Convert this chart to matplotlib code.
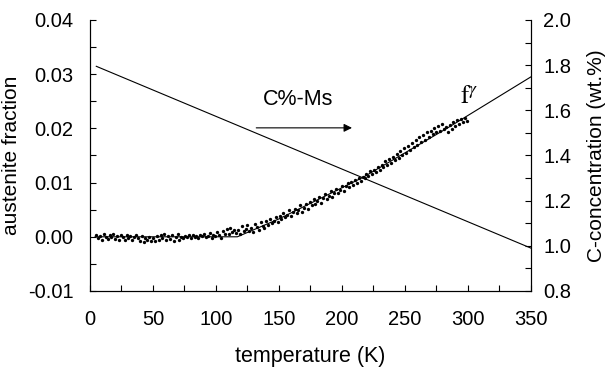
import numpy as np
import matplotlib
matplotlib.use('Agg')
import matplotlib.pyplot as plt
from matplotlib.ticker import MultipleLocator

plt.rcParams['font.family'] = ['Liberation Sans', 'DejaVu Sans']
plt.rcParams['mathtext.fontset'] = 'stix'

# measured austenite fraction (units of 1e-3), one point every 1.5 K from 5 K
frac_milli = [
    0.3, -0.3, 0.1, -0.5, 0.6, 0.0, -0.4, 0.4, -0.1, 0.5,
    -0.4, 0.1, -0.6, 0.3, 0.0, -0.5, 0.4, -0.2, 0.1, -0.6,
    0.0, 0.3, -0.3, -0.7, 0.1, -0.9, -0.2, -0.6, 0.0, -0.8,
    -0.3, -0.7, 0.2, -0.5, 0.4, -0.2, 0.5, -0.6, 0.1, -0.4,
    0.4, -0.7, -0.1, 0.6, -0.5, 0.0, -0.3, 0.2, -0.1, 0.3,
    -0.3, 0.4, 0.0, 0.2, -0.2, 0.4, 0.1, 0.5, -0.1, 0.2,
    0.7, -0.2, 0.3, 0.1, 0.9, 0.4, -0.3, 1.1, 0.5, 1.4,
    0.6, 1.6, 0.9, 1.3, 0.7,
    1.2, 0.6, 1.9, 1.0, 1.4, 2.2, 1.1, 1.7, 0.9, 2.4,
    1.8, 1.3, 2.7, 2.0, 1.6, 2.9, 2.2, 3.3, 2.5, 2.9,
    3.6, 2.8, 3.9, 3.2, 4.3, 3.6, 4.0, 4.9, 3.8, 4.6,
    5.2, 4.3, 5.0, 5.8, 4.6, 5.4, 6.1, 5.2, 6.4, 5.8,
    6.9, 6.0, 6.6, 7.4, 6.3, 7.2, 7.9, 6.9, 7.6, 8.4,
    7.3, 8.1, 8.8, 8.0, 8.6, 9.4, 8.5, 9.3, 9.9, 9.2,
    10.1, 9.6, 10.5, 10.0, 10.8, 10.3, 11.0, 10.8, 11.6, 11.2,
    12.1, 11.6, 12.4, 12.0, 12.9, 12.3, 13.3, 12.8, 13.9, 13.2,
    14.3, 13.7, 14.8, 14.1, 15.2, 14.6, 15.8, 15.1, 16.3, 15.5,
    16.8, 16.0, 17.3, 16.5, 17.8, 17.0, 18.4, 17.4, 18.7, 17.9,
    19.3, 18.4, 19.6, 18.9, 20.1, 19.3, 20.4, 19.5, 20.8, 19.9,
    20.2, 19.4, 20.6, 19.8, 21.1, 20.5, 21.5, 20.9, 21.7, 21.1,
    22.0, 21.4,
]
frac = np.array(frac_milli) / 1000.0
temps = 5 + 1.5 * np.arange(len(frac))

# calculated f-gamma curve
fit_T = [4, 117, 150, 217, 284, 350]
fit_f = [0.0, 0.0, 0.0033, 0.011, 0.0201, 0.0295]

# C%-Ms line (right axis)
c_T = [5, 350]
c_wt = [1.795, 0.99]

fig = plt.figure(figsize=(6.06, 3.69), dpi=100)
ax = fig.add_axes([0.1485, 0.2114, 0.7275, 0.7344])
ax2 = ax.twinx()

ax.plot(temps, frac, 'o', color='black', ms=2.4, mew=0)
ax.plot(fit_T, fit_f, color='black', lw=0.8)
ax2.plot(c_T, c_wt, color='black', lw=0.8)

ax.set_xlim(0, 350)
ax.set_ylim(-0.01, 0.04)
ax2.set_ylim(0.8, 2.0)

ax.xaxis.set_major_locator(MultipleLocator(50))
ax.xaxis.set_minor_locator(MultipleLocator(25))
ax.yaxis.set_major_locator(MultipleLocator(0.01))
ax.yaxis.set_minor_locator(MultipleLocator(0.005))
ax2.yaxis.set_major_locator(MultipleLocator(0.2))
ax2.yaxis.set_minor_locator(MultipleLocator(0.1))
ax.yaxis.set_major_formatter(plt.FuncFormatter(lambda v, p: '%.2f' % v))
ax2.yaxis.set_major_formatter(plt.FuncFormatter(lambda v, p: '%.1f' % v))

for a in (ax, ax2):
    a.spines['top'].set_visible(False)
    for s in a.spines.values():
        s.set_linewidth(0.8)
    a.tick_params(which='both', direction='in', length=4, width=0.8, labelsize=14.5)

ax.tick_params(axis='x', pad=14)
ax.tick_params(axis='y', pad=12)
ax2.tick_params(axis='y', pad=9)

ax.set_xlabel('temperature (K)', fontsize=15.5, labelpad=12)
ax.set_ylabel('austenite fraction', fontsize=15, labelpad=5)
ax2.set_ylabel('C-concentration (wt.%)', fontsize=15, labelpad=11)

ax.annotate('', xy=(208, 0.0201), xytext=(132, 0.0201),
            arrowprops=dict(arrowstyle='-|>', color='black', lw=0.8,
                            mutation_scale=12, shrinkA=0, shrinkB=0))
ax.text(137, 0.0243, 'C%-Ms', fontsize=15.5)
ax.text(294, 0.0247, r'$\mathrm{f}^{\gamma}$', fontsize=18)

fig.savefig('out.png', dpi=100)
